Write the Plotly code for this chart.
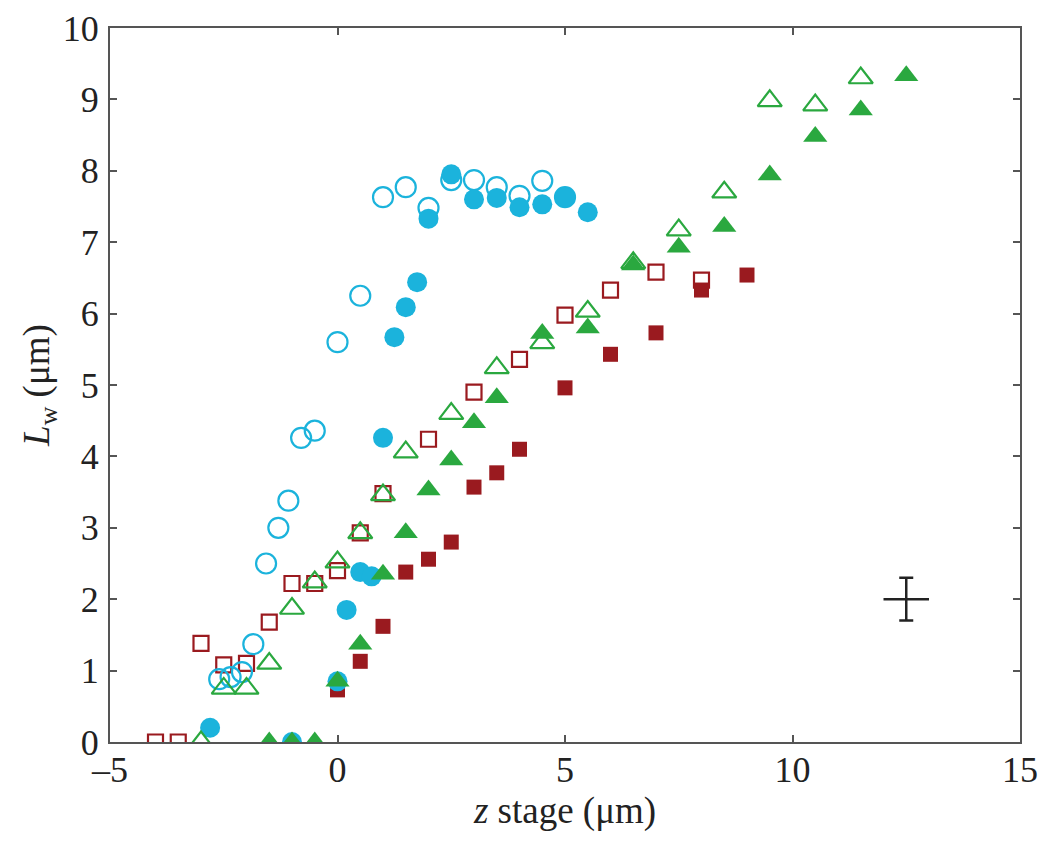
import plotly.graph_objects as go

# Cyan open circles
co_x = [-2.6, -2.35, -2.1, -1.85, -1.57, -1.3, -1.08, -0.8, -0.5, 0.0, 0.5, 1.0, 1.5, 2.0, 2.5, 3.0, 3.5, 4.0, 4.5, 5.0]
co_y = [0.88, 0.91, 0.98, 1.37, 2.5, 3.0, 3.38, 4.26, 4.36, 5.6, 6.25, 7.63, 7.77, 7.48, 7.87, 7.87, 7.77, 7.65, 7.86, 7.63]
# Cyan filled circles
cf_x = [-2.8, -1.0, 0.0, 0.2, 0.5, 0.75, 1.0, 1.25, 1.5, 1.75, 2.0, 2.5, 3.0, 3.5, 4.0, 4.5, 5.0, 5.5]
cf_y = [0.2, 0.0, 0.85, 1.85, 2.38, 2.32, 4.26, 5.67, 6.09, 6.44, 7.33, 7.95, 7.6, 7.62, 7.49, 7.53, 7.63, 7.42]
# Dark red open squares
ro_x = [-4.0, -3.5, -3.0, -2.5, -2.0, -1.5, -1.0, -0.5, 0.0, 0.5, 1.0, 2.0, 3.0, 4.0, 5.0, 6.0, 7.0, 8.0]
ro_y = [0.0, 0.0, 1.38, 1.08, 1.1, 1.68, 2.22, 2.22, 2.4, 2.93, 3.48, 4.24, 4.9, 5.36, 5.98, 6.33, 6.58, 6.47]
# Dark red filled squares
rf_x = [0.0, 0.5, 1.0, 1.5, 2.0, 2.5, 3.0, 3.5, 4.0, 5.0, 6.0, 7.0, 8.0, 9.0]
rf_y = [0.73, 1.13, 1.62, 2.38, 2.56, 2.8, 3.57, 3.77, 4.1, 4.96, 5.43, 5.73, 6.33, 6.54]
# Green open triangles
go_x = [-3.0, -2.5, -2.0, -1.5, -1.0, -0.5, 0.0, 0.5, 1.0, 1.5, 2.5, 3.5, 4.5, 5.5, 6.5, 7.5, 8.5, 9.5, 10.5, 11.5]
go_y = [0.0, 0.75, 0.75, 1.1, 1.87, 2.24, 2.52, 2.93, 3.46, 4.06, 4.6, 5.24, 5.59, 6.03, 6.71, 7.17, 7.7, 8.98, 8.92, 9.3]
# Green filled triangles
gf_x = [-1.5, -1.0, -0.5, 0.0, 0.5, 1.0, 1.5, 2.0, 2.5, 3.0, 3.5, 4.5, 5.5, 6.5, 7.5, 8.5, 9.5, 10.5, 11.5, 12.5]
gf_y = [0.0, 0.0, 0.0, 0.85, 1.37, 2.35, 2.93, 3.53, 3.95, 4.47, 4.82, 5.72, 5.8, 6.68, 6.93, 7.22, 7.94, 8.48, 8.85, 9.33]
# Representative error bar
err_x = [12.5]
err_y = [2.0]
err_dx = [0.5]
err_dy = [0.3]
# Axis ticks
x_ticks = [-5, 0, 5, 10, 15]
x_ticktext = ["\u20135", "0", "5", "10", "15"]
y_ticks = [0, 1, 2, 3, 4, 5, 6, 7, 8, 9, 10]

CYAN = "#1bb3dc"
GREEN = "#2aa83f"
RED = "#9a1a1f"
FONT = "Liberation Serif"

fig = go.Figure()
fig.add_trace(go.Scatter(x=ro_x, y=ro_y, mode="markers",
                         marker=dict(symbol="square-open", size=15, color=RED, line=dict(width=2.2))))
fig.add_trace(go.Scatter(x=rf_x, y=rf_y, mode="markers",
                         marker=dict(symbol="square", size=15, color=RED, line=dict(width=0))))
fig.add_trace(go.Scatter(x=co_x, y=co_y, mode="markers",
                         marker=dict(symbol="circle-open", size=20, color=CYAN, line=dict(width=2.2))))
fig.add_trace(go.Scatter(x=cf_x, y=cf_y, mode="markers",
                         marker=dict(symbol="circle", size=20, color=CYAN, line=dict(width=0))))
fig.add_trace(go.Scatter(x=go_x, y=go_y, mode="markers",
                         marker=dict(symbol="triangle-up-open", size=21, color=GREEN, line=dict(width=2.2))))
fig.add_trace(go.Scatter(x=gf_x, y=gf_y, mode="markers",
                         marker=dict(symbol="triangle-up", size=21, color=GREEN, line=dict(width=0))))
fig.add_trace(go.Scatter(x=err_x, y=err_y, mode="markers",
                         marker=dict(size=1, color="black", opacity=0),
                         error_x=dict(type="data", array=err_dx, color="#222", thickness=2.5, width=0),
                         error_y=dict(type="data", array=err_dy, color="#222", thickness=2.5, width=7)))

axis_common = dict(showline=True, linecolor="#555", linewidth=2, mirror="ticks",
                   ticks="inside", ticklen=7, tickcolor="#555", tickwidth=1.5,
                   showgrid=False, zeroline=False, automargin=False,
                   tickfont=dict(family=FONT, size=36, color="#222"))

fig.update_layout(
    width=1043, height=838,
    margin=dict(l=102, r=31, t=20, b=104),
    plot_bgcolor="white", paper_bgcolor="white",
    showlegend=False,
    xaxis=dict(range=[-5, 15], tickvals=x_ticks, ticktext=x_ticktext, ticklabelstandoff=-5,
               title=dict(text="<i>z</i> stage (μm)", standoff=8,
                          font=dict(family=FONT, size=37, color="#222")),
               **axis_common),
    yaxis=dict(range=[0, 10], tickvals=y_ticks, ticklabelstandoff=2,
               title=dict(text="<i>L</i><sub>w</sub> (μm)", standoff=2,
                          font=dict(family=FONT, size=37, color="#222")),
               **axis_common),
)

fig.write_html("out.html")
